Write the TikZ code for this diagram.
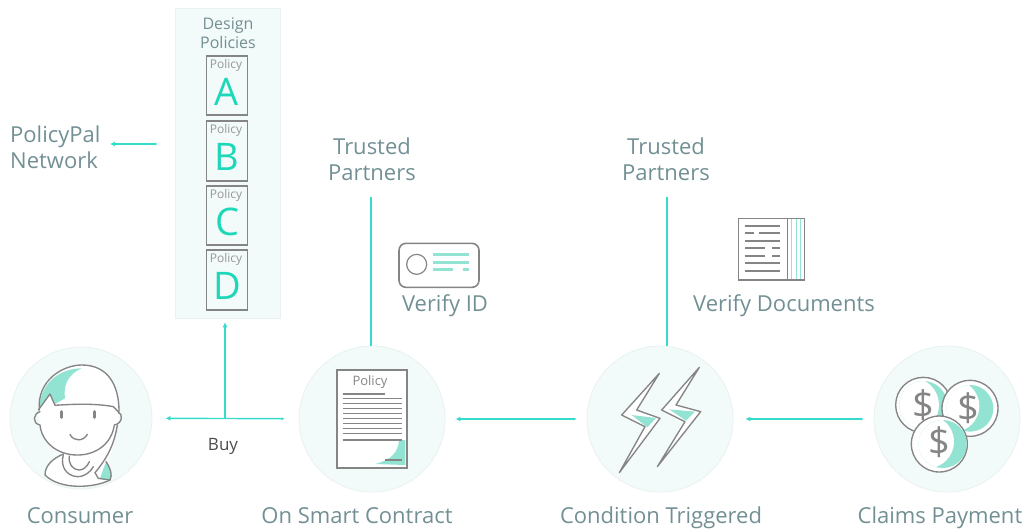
\documentclass[tikz,border=0pt]{standalone}
\usepackage{fontspec}
\setmainfont{Open Sans}
\usetikzlibrary{arrows.meta,calc}
\definecolor{lbl}{HTML}{729094}
\definecolor{teal}{HTML}{35DCCB}
\definecolor{letter}{HTML}{1DD8B8}
\definecolor{mint}{HTML}{93E3D3}
\definecolor{ink}{HTML}{858585}
\definecolor{disc}{HTML}{F3FAFA}
\definecolor{discedge}{HTML}{E9F1F1}
\tikzset{
  px/.style={x=1pt,y=-1pt},
  zoomed/.style={x=0.33333pt,y=-0.33333pt},
  label text/.style={text=lbl,font=\fontsize{22}{26}\selectfont,align=center,inner sep=0pt},
  line label/.style={label text,anchor=base},
  small label/.style={text=lbl,font=\fontsize{16}{19}\selectfont,align=center,inner sep=0pt},
  disc node/.style={circle,fill=disc,draw=discedge,line width=0.8pt,minimum size=146pt,inner sep=0pt},
  panelbox/.style={rectangle,fill=disc,draw=discedge,line width=0.5pt,minimum width=105pt,minimum height=310pt,inner sep=0pt},
  policybox/.style={rectangle,draw=ink,line width=1.5pt,minimum width=41pt,minimum height=58pt,inner sep=0pt},
  flow/.style={draw=teal,line width=1.4pt},
  both tips/.style={{Latex[length=5pt,width=5pt]}-{Latex[length=3pt,width=3pt]}},
  art/.style={draw=ink,line width=1.35pt,line join=round,line cap=round},
  artline/.style={draw=ink,line width=1.2pt},
  tint/.style={fill=mint,draw=none},
  coin sign/.style={text=ink,font=\fontsize{38}{40}\selectfont,inner sep=0pt},
}
\begin{document}
\begin{tikzpicture}[px]
\useasboundingbox (0,0) rectangle (1027,531);

% panel and policies
\node[panelbox] (panel) at (227.5,163) {};
\node[small label] (design) at (228,33) {Design\\Policies};
\foreach \n/\y/\h in {A/85.5/59,B/151/60,C/215.5/59,D/280/60}{
  \node[policybox,minimum height=\h pt] (policy\n) at (227,\y) {};
  \node[text=ink!85,font=\fontsize{12}{14}\selectfont,inner sep=0pt] (cap\n) at ($(policy\n.north)+(-1,10)$) {Policy};
  \node[text=letter,font=\fontsize{38}{40}\selectfont,inner sep=0pt] (let\n) at ($(policy\n.center)+(0,6)$) {\n};
}

% discs
\node[disc node,minimum size=142pt] (consumer) at (81,418) {};
\node[disc node] (contract) at (372,419) {};
\node[disc node] (condition) at (660,419) {};
\node[disc node] (claims) at (947,419) {};

% text labels
\node[label text,align=left,anchor=west] (network) at (10,147) {PolicyPal\\Network};
\node[label text] (trustA) at (372,159) {Trusted\\Partners};
\node[label text] (trustB) at (666,159) {Trusted\\Partners};
\node[line label] (verifyid) at (445,311) {Verify ID};
\node[line label] (verifydoc) at (784,311) {Verify Documents};
\node[line label] (tconsumer) at (80,523) {Consumer};
\node[line label] (tcontract) at (357,523) {On Smart Contract};
\node[line label] (tcondition) at (661,523) {Condition Triggered};
\node[line label] (tclaims) at (940,523) {Claims Payment};
\node[text=black!70,font=\fontsize{17}{18}\selectfont,inner sep=0pt,anchor=base] (buy) at (223,450) {Buy};

% connectors
\coordinate (netleft) at (110,144);
\coordinate (junction) at (225,419);
\coordinate (lineB) at (667,346);
\draw[flow,both tips,shorten >=17pt] (netleft) -- (panel.west |- netleft);
\draw[flow,both tips,shorten <=13pt,shorten >=14pt] (consumer) -- (contract);
\draw[flow,-{Latex[length=5pt,width=5pt]},shorten >=4pt] (junction) -- (junction |- panel.south);
\draw[flow,both tips,shorten <=10pt,shorten >=10pt] (contract.east) -- (condition.west);
\draw[flow,both tips,shorten <=12pt,shorten >=10pt] (condition.east) -- (claims.west);
\draw[flow] (371,197) -- (contract.north -| 371,0);
\draw[flow] (lineB |- 0,197) -- (lineB);

% consumer figure
\begin{scope}[shift={(0,330)},zoomed]
  \path[fill=white] (115,240) .. controls (110,150) and (190,105) .. (245,105) .. controls (320,105) and (358,160) .. (357,245) .. controls (350,320) and (340,370) .. (318,395) .. controls (335,420) and (335,440) .. (330,450) .. controls (280,475) and (180,480) .. (135,435) .. controls (135,405) and (160,385) .. (190,372) .. controls (150,360) and (125,330) .. (120,290) -- cycle;
  \fill[tint] (118,235) .. controls (118,170) and (170,115) .. (245,115) .. controls (200,135) and (190,170) .. (195,205) -- (165,222) -- (150,192) -- cycle;
  \fill[tint] (300,445) -- (318,395) .. controls (332,415) and (338,435) .. (330,450) -- cycle;
  \draw[art] (118,240) .. controls (110,150) and (190,105) .. (245,105) .. controls (320,105) and (358,160) .. (357,248);
  \draw[art] (115,240) -- (150,192) -- (165,226) .. controls (220,222) and (290,220) .. (340,230) -- (355,245);
  \draw[art] (120,245) .. controls (100,250) and (95,280) .. (120,285) .. controls (125,335) and (170,375) .. (232,375) .. controls (290,375) and (335,340) .. (343,285) .. controls (370,280) and (368,248) .. (355,248);
  \draw[art] (352,285) .. controls (345,330) and (330,375) .. (285,428);
  \draw[art] (285,428) -- (295,445) -- (330,450);
  \draw[art] (318,395) .. controls (332,415) and (338,435) .. (330,450);
  \draw[art] (190,372) .. controls (160,385) and (135,405) .. (135,435) .. controls (180,480) and (280,475) .. (330,450);
  \draw[art] (190,375) .. controls (180,410) and (200,438) .. (232,440) .. controls (255,440) and (272,425) .. (280,410);
  \draw[art] (208,378) .. controls (205,400) and (215,418) .. (238,420) .. controls (250,420) and (262,410) .. (268,395);
  \draw[ink,line width=3pt,line cap=round] (183,245) -- (183,262);
  \draw[ink,line width=3pt,line cap=round] (283,245) -- (283,262);
  \draw[art] (210,313) .. controls (220,335) and (250,335) .. (262,313);
\end{scope}

% policy document
\begin{scope}[shift={(0,330)},zoomed]
  \fill[white] (1010,120) rectangle (1220,415);
  \fill[tint] (1125,402) .. controls (1175,390) and (1195,365) .. (1197,330) -- (1216,330) -- (1216,405) -- cycle;
  \draw[ink,line width=1.7pt] (1010,120) rectangle (1220,415);
  \node[text=ink,font=\fontsize{13}{14}\selectfont,inner sep=0pt] (doctitle) at (1110,155) {Policy};
  \draw[artline] (1028,192) -- (1155,192);
  \foreach \y in {205,220,235,250,265,280,295,310,330}{\draw[artline] (1028,\y) -- (1205,\y);}
  \draw[artline] (1155,390) -- (1205,390);
\end{scope}

% lightning
\begin{scope}[shift={(570,330)},zoomed]
  \fill[white] (268,130) -- (155,255) -- (225,290) -- (148,428) -- (270,265) -- (200,240) -- cycle;
  \fill[white] (388,112) -- (275,240) -- (345,275) -- (262,410) -- (392,245) -- (318,225) -- cycle;
  \fill[tint] (185,255) -- (258,264) -- (232,292) -- cycle;
  \fill[tint] (298,238) -- (375,245) -- (348,272) -- cycle;
  \draw[art] (268,130) -- (155,255) -- (225,290) -- (148,428) -- (270,265) -- (200,240) -- cycle;
  \draw[art] (388,112) -- (275,240) -- (345,275) -- (262,410) -- (392,245) -- (318,225) -- cycle;
\end{scope}

% coins
\begin{scope}[shift={(570,330)},zoomed]
  \draw[art,fill=white] (1060,225) circle[radius=83];
  \begin{scope}
    \clip (1060,225) circle[radius=72];
    \fill[tint] (980,145) rectangle (1140,305);
    \fill[white] (1025,225) circle[radius=82];
  \end{scope}
  \draw[art,fill=white] (1200,235) circle[radius=84];
  \begin{scope}
    \clip (1200,235) circle[radius=70];
    \fill[tint] (1120,155) rectangle (1280,315);
    \fill[white] (1150,228) circle[radius=78];
  \end{scope}
  \draw[art,fill=white] (1108,342) circle[radius=84];
  \begin{scope}
    \clip (1118,342) circle[radius=72];
    \fill[tint] (1030,260) rectangle (1200,430);
    \fill[white] (1072,335) circle[radius=80];
  \end{scope}
  \node[coin sign] (coinA) at (1060,225) {\$};
  \node[coin sign] (coinB) at (1195,235) {\$};
  \node[coin sign] (coinC) at (1108,338) {\$};
\end{scope}

% ID card
\begin{scope}[shift={(380,200)},zoomed]
  \draw[ink,line width=1.6pt,rounded corners=7pt] (57,130) rectangle (297,262);
  \draw[ink,line width=1.2pt] (110,193) circle[radius=30];
  \foreach \y in {162,186}{\draw[mint,line width=3pt] (158,\y) -- (268,\y);}
  \draw[mint,line width=3pt] (158,209) -- (218,209);
  \draw[mint,line width=3pt] (248,209) -- (268,209);
\end{scope}

% document icon
\begin{scope}[shift={(380,200)},zoomed]
  \foreach \x in {1235,1248,1260}{\draw[mint,line width=0.5pt] (\x,55) -- (\x,240);}
  \draw[ink,line width=1.5pt] (1075,55) rectangle (1273,240);
  \draw[ink,line width=1.5pt] (1222,55) -- (1222,240);
  \foreach \y in {77,122,190,213}{\draw[ink,line width=2.2pt] (1095,\y) -- (1200,\y);}
  \draw[ink,line width=2.2pt] (1095,99) -- (1122,99);
  \draw[ink,line width=2.2pt] (1138,99) -- (1200,99);
  \draw[ink,line width=2.2pt] (1095,145) -- (1155,145);
  \draw[ink,line width=2.2pt] (1175,145) -- (1200,145);
  \draw[ink,line width=2.2pt] (1095,167) -- (1155,167);
  \draw[ink,line width=2.2pt] (1175,167) -- (1200,167);
\end{scope}
\end{tikzpicture}
\end{document}
